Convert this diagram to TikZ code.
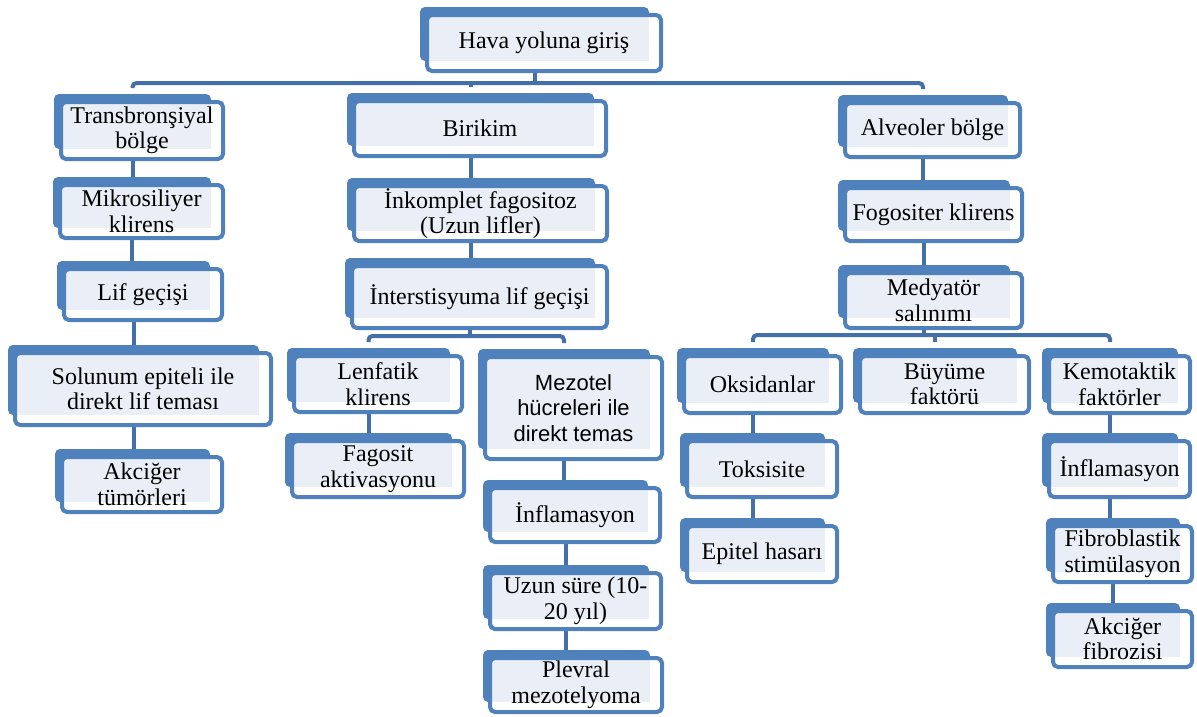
\documentclass[tikz,border=0pt]{standalone}
\usepackage{fontspec}
\setmainfont{Liberation Serif}
\newfontfamily\sansf{Liberation Sans}
\usetikzlibrary{calc}
\pgfdeclarelayer{background}
\pgfsetlayers{background,main}
\definecolor{nodeblue}{HTML}{4F81BD}
\definecolor{connblue}{HTML}{4470AA}
\definecolor{nodelight}{HTML}{EAEFF7}
\tikzset{
  txt/.style={font=\fontsize{24}{25.5}\selectfont, align=center, text=black, inner sep=0pt},
  stxt/.style={font=\sansf\fontsize{22}{25.5}\selectfont, align=center, text=black, inner sep=0pt},
  conn/.style={draw=connblue, line width=4pt},
}
% name, bx0, by0, fx1, fy1, text, style
\newcommand\nbox[7]{%
  \fill[nodeblue, rounded corners=5pt] (#2,#3) rectangle (#4-12,#5-10);
  \fill[white, rounded corners=5pt] (#2+7,#3+8) rectangle (#4,#5);
  \fill[nodelight] (#2+9,#3+10) rectangle (#4-12,#5-10);
  \draw[nodeblue, line width=4pt, rounded corners=5pt] (#2+7,#3+8) rectangle (#4,#5);
  \node[#7] (#1) at ({(#2+7+#4)/2},{(#3+8+#5)/2}) {#6};
  \coordinate (#1-t) at ({(#2+#4-12)/2},#3);
  \coordinate (#1-b) at ({(#2+#4-12)/2},#5);
}
\begin{document}
\begin{tikzpicture}[x=1pt,y=-1pt]
\useasboundingbox (0,0) rectangle (1197,716);
\coordinate (bar1) at (0,83);
\coordinate (bar2) at (0,336);
\coordinate (bar3) at (0,335);
% ---- boxes ----
\nbox{hava}{420}{7}{661}{71}{Hava yoluna giriş}{txt}
\nbox{trans}{54}{94}{223}{159}{Transbronşiyal\\bölge}{txt}
\nbox{mikro}{53}{177}{223}{238}{Mikrosiliyer\\klirens}{txt}
\nbox{lif}{57}{261}{222}{320}{Lif geçişi}{txt}
\nbox{solunum}{8}{345}{271}{425}{Solunum epiteli ile\\direkt lif teması}{txt}
\nbox{tumor}{55}{449}{222}{512}{Akciğer\\tümörleri}{txt}
\nbox{birikim}{347}{93}{606}{156}{Birikim}{txt}
\nbox{inkomp}{347}{178}{607}{241}{İnkomplet fagositoz\\(Uzun lifler)}{txt}
\nbox{inter}{345}{258}{607}{328}{İnterstisyuma lif geçişi}{txt}
\nbox{lenf}{287}{348}{462}{412}{Lenfatik\\klirens}{txt}
\nbox{fagosit}{285}{433}{464}{497}{Fagosit\\aktivasyonu}{txt}
\nbox{mezotel}{478}{349}{662}{459}{Mezotel\\hücreleri ile\\direkt temas}{stxt}
\nbox{inflamA}{483}{480}{660}{542}{İnflamasyon}{txt}
\nbox{uzun}{483}{565}{661}{629}{Uzun süre (10-\\20 yıl)}{txt}
\nbox{plevral}{483}{650}{662}{712}{Plevral\\mezotelyoma}{txt}
\nbox{alv}{838}{95}{1020}{157}{Alveoler bölge}{txt}
\nbox{fogo}{838}{180}{1022}{241}{Fogositer klirens}{txt}
\nbox{medya}{838}{265}{1022}{328}{Medyatör\\salınımı}{txt}
\nbox{oksi}{677}{348}{841}{413}{Oksidanlar}{txt}
\nbox{buyume}{853}{348}{1029}{413}{Büyüme\\faktörü}{txt}
\nbox{kemo}{1042}{348}{1190}{413}{Kemotaktik\\faktörler}{txt}
\nbox{toks}{680}{433}{837}{497}{Toksisite}{txt}
\nbox{epitel}{680}{518}{837}{582}{Epitel hasarı}{txt}
\nbox{inflamB}{1042}{433}{1190}{497}{İnflamasyon}{txt}
\nbox{fibro}{1046}{518}{1192}{582}{Fibroblastik\\stimülasyon}{txt}
\nbox{fibroz}{1046}{603}{1192}{667}{Akciğer\\fibrozisi}{txt}
% ---- connectors ----
\begin{pgfonlayer}{background}
  % top fan-out
  \draw[conn] (hava-b) -- (hava-b |- bar1);
  \draw[conn, rounded corners=4pt] ([yshift=6pt]trans-t) -- (trans-t |- bar1) -- (alv-t |- bar1) -- ([yshift=6pt]alv-t);
  \draw[conn] (birikim-t |- bar1) -- ([yshift=6pt]birikim-t);
  % left column
  \draw[conn] (trans-b) -- (trans-b |- mikro-t);
  \draw[conn] (mikro-b) -- (mikro-b |- lif-t);
  \draw[conn] (lif-b) -- (lif-b |- solunum-t);
  \draw[conn] (solunum-b) -- (solunum-b |- tumor-t);
  % middle column
  \draw[conn] (birikim-b) -- (birikim-b |- inkomp-t);
  \draw[conn] (inkomp-b) -- (inkomp-b |- inter-t);
  \draw[conn] (inter-b) -- (inter-b |- bar2);
  \draw[conn, rounded corners=4pt] ([yshift=6pt]lenf-t) -- (lenf-t |- bar2) -- (mezotel-t |- bar2) -- ([yshift=6pt]mezotel-t);
  \draw[conn] (lenf-b) -- (lenf-b |- fagosit-t);
  \draw[conn] (mezotel-b) -- (mezotel-b |- inflamA-t);
  \draw[conn] (inflamA-b) -- (inflamA-b |- uzun-t);
  \draw[conn] (uzun-b) -- (uzun-b |- plevral-t);
  % right column
  \draw[conn] (alv-b) -- (alv-b |- fogo-t);
  \draw[conn] (fogo-b) -- (fogo-b |- medya-t);
  \draw[conn] (medya-b) -- (medya-b |- bar3);
  \draw[conn, rounded corners=4pt] ([yshift=6pt]oksi-t) -- (oksi-t |- bar3) -- (kemo-t |- bar3) -- ([yshift=6pt]kemo-t);
  \draw[conn] (buyume-t |- bar3) -- ([yshift=6pt]buyume-t);
  \draw[conn] (oksi-b) -- (oksi-b |- toks-t);
  \draw[conn] (toks-b) -- (toks-b |- epitel-t);
  \draw[conn] (kemo-b) -- (kemo-b |- inflamB-t);
  \draw[conn] (inflamB-b) -- (inflamB-b |- fibro-t);
  \draw[conn] (fibro-b) -- (fibro-b |- fibroz-t);
\end{pgfonlayer}
\end{tikzpicture}
\end{document}
